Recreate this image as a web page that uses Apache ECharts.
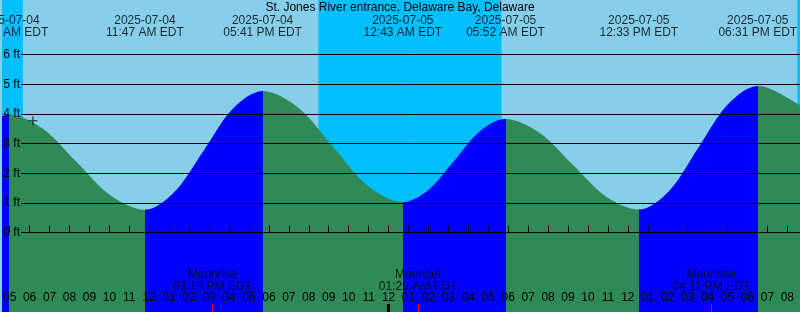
<!DOCTYPE html>
<html><head><meta charset="utf-8">
<script src="https://cdn.jsdelivr.net/npm/echarts@6/dist/echarts.min.js"></script>
<style>html,body{margin:0;padding:0;background:#87CEEB}#c{width:800px;height:312px}</style>
</head><body><div id="c"></div>
<script>
// ---------------- data ----------------
const stationName = 'St. Jones River entrance, Delaware Bay, Delaware';
const extremeTimes = ['2025-07-04 04:58','2025-07-04 11:47','2025-07-04 17:41','2025-07-05 00:43','2025-07-05 05:52','2025-07-05 12:33','2025-07-05 18:31'];
const extremeFeet  = [3.97, 0.77, 4.77, 1.03, 3.83, 0.78, 4.94];
const extremeTypes = ['high','low','high','low','high','low','high'];
const curveTimes = ['2025-07-04 03:34','2025-07-04 04:58','2025-07-04 06:40','2025-07-04 08:22','2025-07-04 10:05','2025-07-04 11:47',
  '2025-07-04 13:15','2025-07-04 14:44','2025-07-04 16:12','2025-07-04 17:41','2025-07-04 19:27','2025-07-04 21:12','2025-07-04 22:57',
  '2025-07-05 00:43','2025-07-05 02:00','2025-07-05 03:18','2025-07-05 04:35','2025-07-05 05:52','2025-07-05 07:32','2025-07-05 09:12',
  '2025-07-05 10:53','2025-07-05 12:33','2025-07-05 14:03','2025-07-05 15:32','2025-07-05 17:02','2025-07-05 18:31','2025-07-05 20:38','2025-07-05 21:30'];
const curveFeet = [3.52,3.97,3.50,2.37,1.24,0.77,
  1.36,2.77,4.18,4.77,4.22,2.90,1.58,
  1.03,1.44,2.43,3.42,3.83,3.38,2.31,
  1.23,0.78,1.39,2.86,4.33,4.94,4.30,3.90];
const nightStarts = ['2025-07-04 00:00','2025-07-04 20:29','2025-07-05 20:30'];
const nightEnds   = ['2025-07-04 05:40','2025-07-05 05:40','2025-07-06 00:00'];
const moonEventNames = ['Moonrise','Moonset','Moonrise'];
const moonEventTimes = ['2025-07-04 15:10','2025-07-05 01:29','2025-07-05 16:11'];
const depthTicks = [0,1,2,3,4,5,6];
const viewStart = '2025-07-04 04:38';
const viewEnd   = '2025-07-05 20:38';
const markerTime = '2025-07-04 06:10';
const markerFeet = 3.77;

// ---------------- helpers ----------------
const BASE = Date.UTC(2025,6,4);
function hrs(s){ const [d,t]=s.split(' '); const [y,m,dd]=d.split('-').map(Number); const [H,M]=t.split(':').map(Number);
  return (Date.UTC(y,m-1,dd,H,M)-BASE)/3600000; }
function fmt12(s){ const [d,t]=s.split(' '); let [H,M]=t.split(':').map(Number); const ap=H>=12?'PM':'AM'; let h=H%12; if(h===0)h=12;
  return String(h).padStart(2,'0')+':'+String(M).padStart(2,'0')+' '+ap+' EDT'; }
const XMIN = hrs(viewStart), XMAX = hrs(viewEnd);
const FT_TOP = 7.835, FT_BOTTOM = -2.67, H = 312;
const hourTicks = []; for(let h=Math.ceil(XMIN); h<=Math.floor(XMAX); h++) hourTicks.push(h);
const midnightTicks = hourTicks.filter(h=>h%24===0);
const moonHours = moonEventTimes.map(hrs);
const exHours = extremeTimes.map(hrs);
const FONT = 'Liberation Sans';
const RISE = '#0000FF', FALL = '#2E8B57';

const pieces = [];
pieces.push({lt: exHours[0], color: extremeTypes[0]==='high'?RISE:FALL});
for(let i=0;i<exHours.length-1;i++) pieces.push({gte: exHours[i], lt: exHours[i+1], color: extremeTypes[i+1]==='high'?RISE:FALL});
pieces.push({gte: exHours[exHours.length-1], color: extremeTypes[exHours.length-1]==='high'?FALL:RISE});

const g2top = H*(FT_TOP-depthTicks[depthTicks.length-1])/(FT_TOP-FT_BOTTOM);
const g2h = H*(depthTicks[depthTicks.length-1]-depthTicks[0])/(FT_TOP-FT_BOTTOM);

const chart = echarts.init(document.getElementById('c'), null, {renderer:'canvas'});
chart.setOption({
  animation:false,
  backgroundColor:'#87CEEB',
  title:{text: stationName, left:'center', top:2, padding:0, textStyle:{fontSize:12, fontWeight:'normal', fontFamily:FONT, color:'#000'}},
  grid:[{left:0,right:0,top:0,bottom:0},{left:21,right:0,top:g2top,height:g2h}],
  visualMap:{type:'piecewise', show:false, dimension:0, seriesIndex:1, pieces:pieces},
  xAxis:[
    {gridIndex:0,type:'value',min:XMIN,max:XMAX,position:'bottom',z:10,axisLine:{show:false},splitLine:{show:false},
     axisTick:{show:true,inside:true,length:7,customValues:hourTicks,lineStyle:{color:'#000',width:1}},
     axisLabel:{show:true,inside:true,customValues:hourTicks,margin:14,verticalAlign:'middle',color:'#000',fontSize:12,fontFamily:FONT,
       formatter:v=>{let h=Math.round(v)%12; if(h===0)h=12; return String(h).padStart(2,'0');}}},
    {gridIndex:0,type:'value',min:XMIN,max:XMAX,position:'bottom',z:11,axisLine:{show:false},splitLine:{show:false},axisLabel:{show:false},
     axisTick:{show:true,inside:true,length:8,customValues:moonHours,lineStyle:{color:'#FF0000',width:1}}},
    {gridIndex:0,type:'value',min:XMIN,max:XMAX,position:'bottom',z:11,axisLine:{show:false},splitLine:{show:false},axisLabel:{show:false},
     axisTick:{show:true,inside:true,length:8,customValues:midnightTicks,lineStyle:{color:'#000',width:3}}},
    {gridIndex:1,type:'value',min:0,max:1,show:false}
  ],
  yAxis:[
    {gridIndex:0,type:'value',min:FT_BOTTOM,max:FT_TOP,show:false},
    {gridIndex:1,type:'value',min:depthTicks[0],max:depthTicks[depthTicks.length-1],interval:1,z:10,axisLine:{show:false},axisTick:{show:false},
     splitLine:{show:true,lineStyle:{color:'#000',width:1}},
     axisLabel:{formatter:'{value} ft',margin:1,color:'#000',fontSize:12,fontFamily:FONT}}
  ],
  series:[
    {type:'custom',xAxisIndex:0,yAxisIndex:0,z:1,silent:true,clip:true,encode:{x:[0,1]},
     data: nightStarts.map((s,i)=>[hrs(s),hrs(nightEnds[i])]),
     renderItem:(p,api)=>{const a=api.coord([api.value(0),FT_TOP]);const b=api.coord([api.value(1),FT_BOTTOM]);
       return {type:'rect',shape:{x:a[0],y:a[1],width:b[0]-a[0],height:b[1]-a[1]},style:{fill:'#00BFFF'}};}},
    {type:'line',xAxisIndex:0,yAxisIndex:0,z:2,silent:true,smooth:0.33,symbol:'none',
     data: curveTimes.map((t,i)=>[hrs(t),curveFeet[i]]),
     lineStyle:{width:0},areaStyle:{opacity:1,origin:'start'}},
    {type:'scatter',xAxisIndex:0,yAxisIndex:0,z:6,silent:true,clip:false,symbolSize:1,itemStyle:{color:'rgba(0,0,0,0)'},
     data: extremeTimes.map((t,i)=>({value:[hrs(t),FT_TOP],label:{formatter:t.split(' ')[0]+'\n'+fmt12(t)}})),
     label:{show:true,position:'inside',offset:[0,27],color:'#000',fontSize:12,fontFamily:FONT,lineHeight:12}},
    {type:'scatter',xAxisIndex:0,yAxisIndex:0,z:6,silent:true,clip:false,symbolSize:1,itemStyle:{color:'rgba(0,0,0,0)'},
     data: moonEventTimes.map((t,i)=>({value:[hrs(t),FT_BOTTOM],label:{formatter:moonEventNames[i]+'\n'+fmt12(t)}})),
     label:{show:true,position:'inside',offset:[0,-31],color:'#000',fontSize:12,fontFamily:FONT,lineHeight:12}},
    {type:'scatter',xAxisIndex:0,yAxisIndex:0,z:7,silent:true,symbol:'path://M0,3.5H8V4.5H0Z M3.5,0H4.5V8H3.5Z',symbolSize:9,
     itemStyle:{color:'#000'},data:[[hrs(markerTime),markerFeet]]}
  ]
});
</script></body></html>
